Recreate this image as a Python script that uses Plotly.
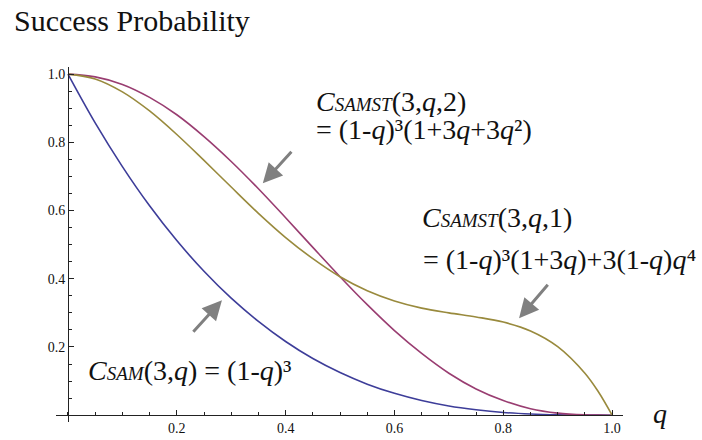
import plotly.graph_objects as go

# ---- data ----
q_vals = [0.0, 0.05, 0.1, 0.15, 0.2, 0.25, 0.3, 0.35, 0.4, 0.45, 0.5, 0.55, 0.6,
          0.65, 0.7, 0.75, 0.8, 0.85, 0.9, 0.95, 0.975, 1.0]
sam_vals = [1.0, 0.857, 0.729, 0.614, 0.512, 0.422, 0.343, 0.275, 0.216, 0.166, 0.125,
            0.091, 0.064, 0.043, 0.027, 0.016, 0.008, 0.0034, 0.001, 0.0001, 0.00002, 0.0]
samst2_vals = [1.0, 0.992, 0.970, 0.932, 0.881, 0.817, 0.744, 0.664, 0.579, 0.492, 0.406,
               0.324, 0.248, 0.181, 0.123, 0.077, 0.043, 0.019, 0.0061, 0.0008, 0.0001, 0.0]
samst1_vals = [1.0, 0.986, 0.948, 0.892, 0.823, 0.747, 0.669, 0.592, 0.521, 0.459, 0.406,
               0.365, 0.335, 0.314, 0.300, 0.288, 0.273, 0.247, 0.201, 0.123, 0.068, 0.0]

x_ticks = [0.2, 0.4, 0.6, 0.8, 1.0]
x_ticktext = ["0.2", "0.4", "0.6", "0.8", "1.0"]
y_ticks = [0.2, 0.4, 0.6, 0.8, 1.0]
y_ticktext = ["0.2", "0.4", "0.6", "0.8", "1.0"]

BLUE = "#3d3d99"
MAGENTA = "#993d71"
OLIVE = "#998a3d"
SERIF = "Liberation Serif"

fig = go.Figure()
for ys, col in [(sam_vals, BLUE), (samst2_vals, MAGENTA), (samst1_vals, OLIVE)]:
    fig.add_trace(go.Scatter(x=q_vals, y=ys, mode="lines",
                             line=dict(color=col, width=1.6, shape="spline"),
                             hoverinfo="skip", showlegend=False))

x_range = [-0.022, 1.020]
y_range = [-0.020, 1.021]

axis_common = dict(showgrid=False, zeroline=False, showline=True, linecolor="#222",
                   linewidth=1, ticks="inside", ticklen=5, tickwidth=1, tickcolor="#222",
                   tickfont=dict(family=SERIF, size=14, color="#111"),
                   anchor="free", automargin=False)

fig.update_layout(
    width=702, height=440,
    margin=dict(l=56, r=79, t=67, b=18, autoexpand=False),
    paper_bgcolor="white", plot_bgcolor="white",
    showlegend=False,
    xaxis=dict(range=x_range, tickmode="array", tickvals=x_ticks, ticktext=x_ticktext,
               position=(0 - y_range[0]) / (y_range[1] - y_range[0]),
               minor=dict(tickmode="linear", tick0=0, dtick=0.05, ticks="inside",
                          ticklen=3, tickcolor="#222", showgrid=False),
               **axis_common),
    yaxis=dict(range=y_range, tickmode="array", tickvals=y_ticks, ticktext=y_ticktext,
               position=(0 - x_range[0]) / (x_range[1] - x_range[0]),
               minor=dict(tickmode="linear", tick0=0, dtick=0.05, ticks="inside",
                          ticklen=3, tickcolor="#222", showgrid=False),
               **axis_common),
)

# paper-coordinate helpers (plot area: x 56..623 px, y 67..422 px)
def px_x(px):
    return (px - 56) / 567

def px_y(py):
    return (422 - py) / 355

fig.add_annotation(text="Success Probability", xref="paper", yref="paper",
                   x=px_x(12), y=px_y(21), xanchor="left", yanchor="middle",
                   showarrow=False, font=dict(family=SERIF, size=30, color="#111"))

SUB = '<span style="font-size:19px"><i>{}</i></span>'
font_ann = dict(family=SERIF, size=28, color="#111")
texts = [
    ("<i>C</i>" + SUB.format("SAMST") + "(3,<i>q</i>,2)", 314, 101),
    ("= (1-<i>q</i>)³(1+3<i>q</i>+3<i>q</i>²)", 314, 129),
    ("<i>C</i>" + SUB.format("SAMST") + "(3,<i>q</i>,1)", 420, 217),
    ("= (1-<i>q</i>)³(1+3<i>q</i>)+3(1-<i>q</i>)<i>q</i>⁴", 421, 259),
    ("<i>C</i>" + SUB.format("SAM") + "(3,<i>q</i>) = (1-<i>q</i>)³", 86, 370),
    ("<i>q</i>", 651, 413),
]
for t, x, y in texts:
    fig.add_annotation(text=t, x=px_x(x), y=px_y(y), xref="paper", yref="paper",
                       xanchor="left", yanchor="middle", showarrow=False, font=font_ann)

arrows = [(0.358, 0.680, 30, -33), (0.283, 0.337, -30, 33), (0.829, 0.284, 30, -35)]
for x, y, ax, ay in arrows:
    fig.add_annotation(x=x, y=y, xref="x", yref="y", ax=ax, ay=ay, text="",
                       showarrow=True, arrowhead=2, arrowsize=1.3, arrowwidth=3,
                       arrowcolor="#808080")

fig.write_html("out.html", config={"displayModeBar": False},
               post_script="document.body.style.margin='0px';document.body.style.overflow='hidden';")
